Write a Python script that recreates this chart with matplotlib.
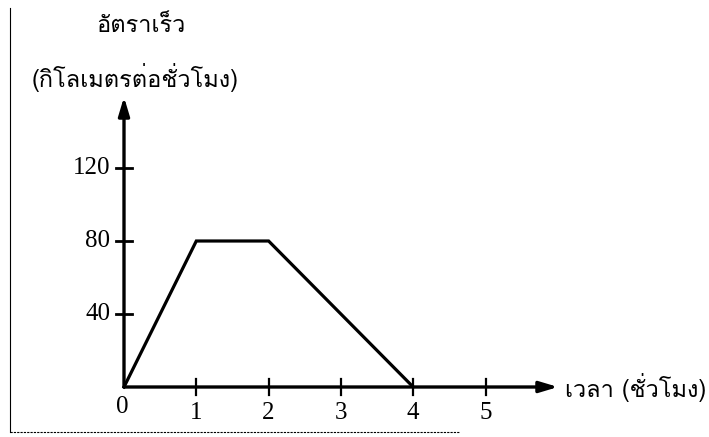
import matplotlib
matplotlib.use("Agg")
import matplotlib.pyplot as plt
from matplotlib import font_manager
from matplotlib.ft2font import FT2Font

# ---- data ----
time_h = [0, 1, 2, 4]
speed_kmh = [0, 80, 80, 0]
x_ticks = [1, 2, 3, 4, 5]
y_ticks = [40, 80, 120]
y_title_1 = "อัตราเร็ว"
y_title_2 = "(กิโลเมตรต่อชั่วโมง)"
x_title = "เวลา (ชั่วโมง)"

# find a font with Thai glyphs
thai_font = None
for f in font_manager.fontManager.ttflist:
    try:
        ft = FT2Font(f.fname)
        if ft.get_char_index(ord("อ")) and ft.get_char_index(ord("ั")):
            thai_font = f.name
            break
    except Exception:
        pass
thai_family = [thai_font, "DejaVu Sans"] if thai_font else ["DejaVu Sans"]
num_family = ["Liberation Serif", "DejaVu Serif"]

W, H = 709, 437
fig = plt.figure(figsize=(W / 100, H / 100), dpi=100)
ax = fig.add_axes([0, 0, 1, 1])
# pixel mapping: origin at (124, 387), 72.3 px per hour, 1.825 px per km/h
ox, oy, sx, sy = 124, 387, 72.3, 1.825
ax.set_xlim(-ox / sx, (W - ox) / sx)
ax.set_ylim(-(H - oy) / sy, oy / sy)
ax.axis("off")

lw = 2.4
x_end = (558 - ox) / sx
y_end = (oy - 97) / sy
for xy in [(x_end, 0), (0, y_end)]:
    ax.annotate("", xy=xy, xytext=(0, 0),
                arrowprops=dict(arrowstyle="-|>,head_length=1.1,head_width=0.33", lw=lw,
                                color="black", shrinkA=0, shrinkB=0))

# ticks
tx = 8 / sx
ty = 8 / sy
for v in y_ticks:
    ax.plot([-tx, tx], [v, v], color="black", lw=2.0)
    ax.text(-14 / sx, v, str(v), ha="right", va="center", fontsize=18, family=num_family)
for v in x_ticks:
    ax.plot([v, v], [-ty, ty], color="black", lw=1.6)
    ax.text(v, -26 / sy, str(v), ha="center", va="center", fontsize=18, family=num_family)
ax.text(-2 / sx, -20 / sy, "0", ha="center", va="center", fontsize=18, family=num_family)

# data line
ax.plot(time_h, speed_kmh, color="black", lw=2.3, solid_joinstyle="miter")

# titles
ax.text((141 - ox) / sx, (oy - 25) / sy, y_title_1, ha="center", va="center",
        fontsize=17, family=thai_family)
ax.text((135 - ox) / sx, (oy - 78) / sy, y_title_2, ha="center", va="center",
        fontsize=17, family=thai_family)
ax.text((565 - ox) / sx, 0, x_title, ha="left", va="center",
        fontsize=17, family=thai_family)

# scan frame
fig.add_artist(plt.Line2D([10 / W, 10 / W], [1 - 8 / H, 1 - 432 / H], color="black", lw=0.8,
                          transform=fig.transFigure))
fig.add_artist(plt.Line2D([10 / W, 460 / W], [1 - 432 / H, 1 - 432 / H], color="black", lw=0.8,
                          ls=(0, (2, 1)), transform=fig.transFigure))

fig.savefig("out.png", dpi=100, facecolor="white")
